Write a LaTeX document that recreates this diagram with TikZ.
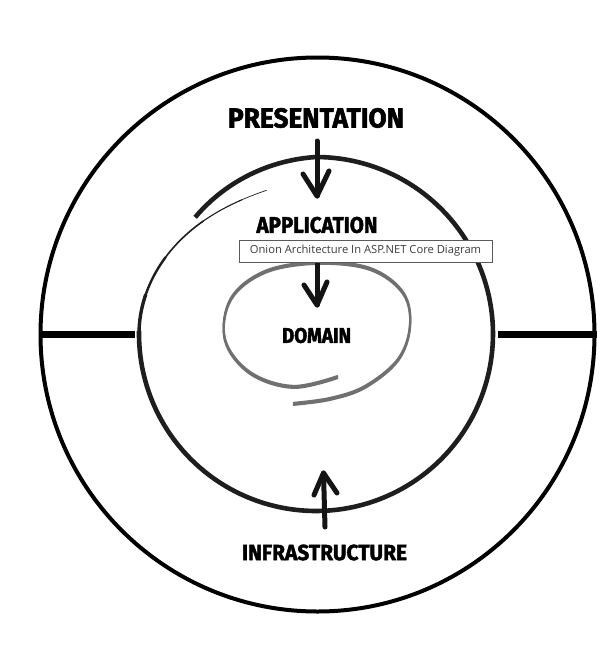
\documentclass[tikz,border=0pt]{standalone}
\usepackage{fontspec}
\usepackage{graphicx}
\newfontfamily\brush{Fira Sans}[FakeBold=2]
\newfontfamily\uifont{Open Sans}
\definecolor{ink}{RGB}{20,20,20}
\definecolor{midink}{RGB}{30,30,30}
\definecolor{spiralgray}{RGB}{112,112,112}
\definecolor{tipborder}{RGB}{90,90,90}
\definecolor{tiptext}{RGB}{60,60,60}
\newcommand\fitlbl[3]{\resizebox{#1}{#2}{\brush\bfseries #3}}
\begin{document}
\begin{tikzpicture}[x=1pt,y=-1pt,
  lbl/.style={inner sep=0pt, text=black},
  brusharrow/.style={line width=5pt, line cap=round, line join=round, draw=ink},
  divider/.style={line width=7.5pt, draw=black},
  graystroke/.style={line width=2.3pt, draw=spiralgray, line cap=butt},
  declare function={rin(\a)=177-25*(3*((\a-540)/71)^2-2*((\a-540)/71)^3);
                    rout(\a)=min(177,168+9*(\a-224)/46);}]
\useasboundingbox (0,0) rectangle (615,664);
\fill[white] (0,0) rectangle (615,664);

% outer ring
\node[circle, draw=black, line width=4pt, minimum size=554pt, inner sep=0pt] (outer) at (317.5,334.5) {};
\coordinate (lend) at (135,334.5);
\coordinate (rend) at (498,334.5);
\draw[divider] (outer.west) -- (lend);
\draw[divider] (rend) -- (outer.east);

% middle hand-drawn spiral ring
\draw[line width=4.6pt, draw=midink, line cap=butt]
  plot[domain=224:541, samples=160, variable=\a] ({316+rout(\a)*cos(\a)},{334+rout(\a)*sin(\a)});
\foreach \s/\e/\w in {540/553/3.4, 552/567/2.4, 566/585/1.6, 584/601/1.1, 600/611/0.7} {
  \draw[line width=\w pt, draw=midink, line cap=round]
    plot[domain=\s:\e, samples=20, variable=\a] ({316+rin(\a)*cos(\a)},{334+rin(\a)*sin(\a)});
}

% domain spiral (gray)
\foreach \dy in {0,1.8} {
  \draw[graystroke, shift={(0,\dy)}] plot[smooth, tension=0.6] coordinates {
    (338,376) (293,386) (250,372) (225,339) (231,298) (265,271) (317,262)
    (370,268) (403,292) (410,325) (398,359) (365,386) (330,398) (293,403)};
}

% labels
\node[lbl] (pres)  at (316,118)   {\fitlbl{176pt}{19.5pt}{PRESENTATION}};
\node[lbl] (app)   at (317,225)   {\fitlbl{121pt}{16pt}{APPLICATION}};
\node[lbl] (dom)   at (316.5,335.5) {\fitlbl{69pt}{15pt}{DOMAIN}};
\node[lbl] (infra) at (324.5,552.5) {\fitlbl{165pt}{15.5pt}{INFRASTRUCTURE}};

% arrows
\coordinate (a1s) at (317,141);
\coordinate (a1t) at (317,196);
\coordinate (a1l) at (303,174);
\coordinate (a1r) at (329,171);
\draw[brusharrow] (a1s) -- (a1t);
\draw[brusharrow] (a1l) -- (a1t) -- (a1r);

\coordinate (a2s) at (317,258);
\coordinate (a2t) at (317,305);
\coordinate (a2l) at (304,285);
\coordinate (a2r) at (327,282);
\draw[brusharrow] (a2s) -- (a2t);
\draw[brusharrow] (a2l) -- (a2t) -- (a2r);

\coordinate (a3s) at (325,527);
\coordinate (a3t) at (323.5,473);
\coordinate (a3l) at (314,495);
\coordinate (a3r) at (337,493);
\draw[brusharrow] (a3s) -- (a3t);
\draw[brusharrow] (a3l) -- (a3t) -- (a3r);

% tooltip
\node[draw=tipborder, fill=white, line width=0.8pt, minimum width=253pt, minimum height=22pt,
      inner sep=0pt, text=tiptext, font=\uifont\fontsize{11.2}{12}\selectfont] (tip)
      at (365.5,251) {Onion Architecture In ASP.NET Core Diagram};
\end{tikzpicture}
\end{document}
